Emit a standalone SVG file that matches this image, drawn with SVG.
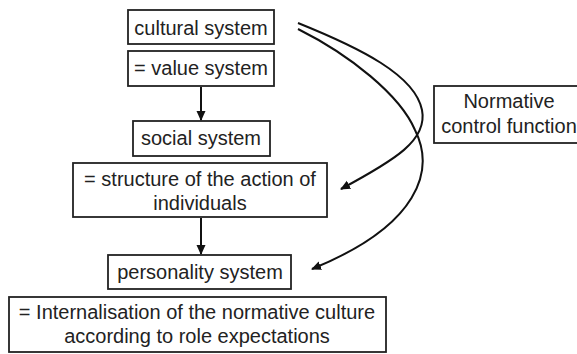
<svg xmlns="http://www.w3.org/2000/svg" width="577" height="354" viewBox="0 0 577 354">
<defs>
<style>
.box{fill:#fff;stroke:#222;stroke-width:1.8}
text{font-family:"Liberation Sans",Arial,sans-serif;font-size:20px;fill:#222;text-anchor:middle}
.c{fill:none;stroke:#111;stroke-width:2}
</style>
<marker id="ah" markerWidth="10" markerHeight="10" viewBox="0 0 10 10" refX="9" refY="5" orient="auto" markerUnits="userSpaceOnUse">
<path d="M0,0.5 L10,5 L0,9.5 Z" fill="#111"/>
</marker>
</defs>
<rect width="577" height="354" fill="#fff"/>
<g id="cultural">
<rect class="box" x="128" y="10" width="146" height="34"/>
<text x="201" y="35">cultural system</text>
</g>
<g id="value">
<rect class="box" x="128" y="51" width="146" height="35"/>
<text x="201" y="75">= value system</text>
</g>
<g id="social">
<rect class="box" x="133" y="121" width="137" height="35"/>
<text x="201" y="145">social system</text>
</g>
<g id="structure">
<rect class="box" x="73" y="163" width="254" height="54"/>
<text x="200" y="186">= structure of the action of</text>
<text x="200" y="210">individuals</text>
</g>
<g id="personality">
<rect class="box" x="108" y="255" width="183" height="34"/>
<text x="200" y="279">personality system</text>
</g>
<g id="internalisation">
<rect class="box" x="9" y="297" width="377" height="55"/>
<text x="197" y="319">= Internalisation of the normative culture</text>
<text x="197" y="343">according to role expectations</text>
</g>
<g id="normative">
<rect class="box" x="434" y="86" width="160" height="57"/>
<text x="509" y="108">Normative</text>
<text x="509" y="133">control function</text>
</g>
<g id="connectors">
<line class="c" x1="201" y1="87" x2="201" y2="120" marker-end="url(#ah)"/>
<line class="c" x1="201" y1="218" x2="201" y2="254" marker-end="url(#ah)"/>
<path class="c" d="M298,23 C360,48 415,75 422,110 C428,140 395,160 341,189" marker-end="url(#ah)"/>
<path class="c" d="M298,29 C350,55 400,95 415,130 C435,170 420,225 312,269" marker-end="url(#ah)"/>
</g>
</svg>
